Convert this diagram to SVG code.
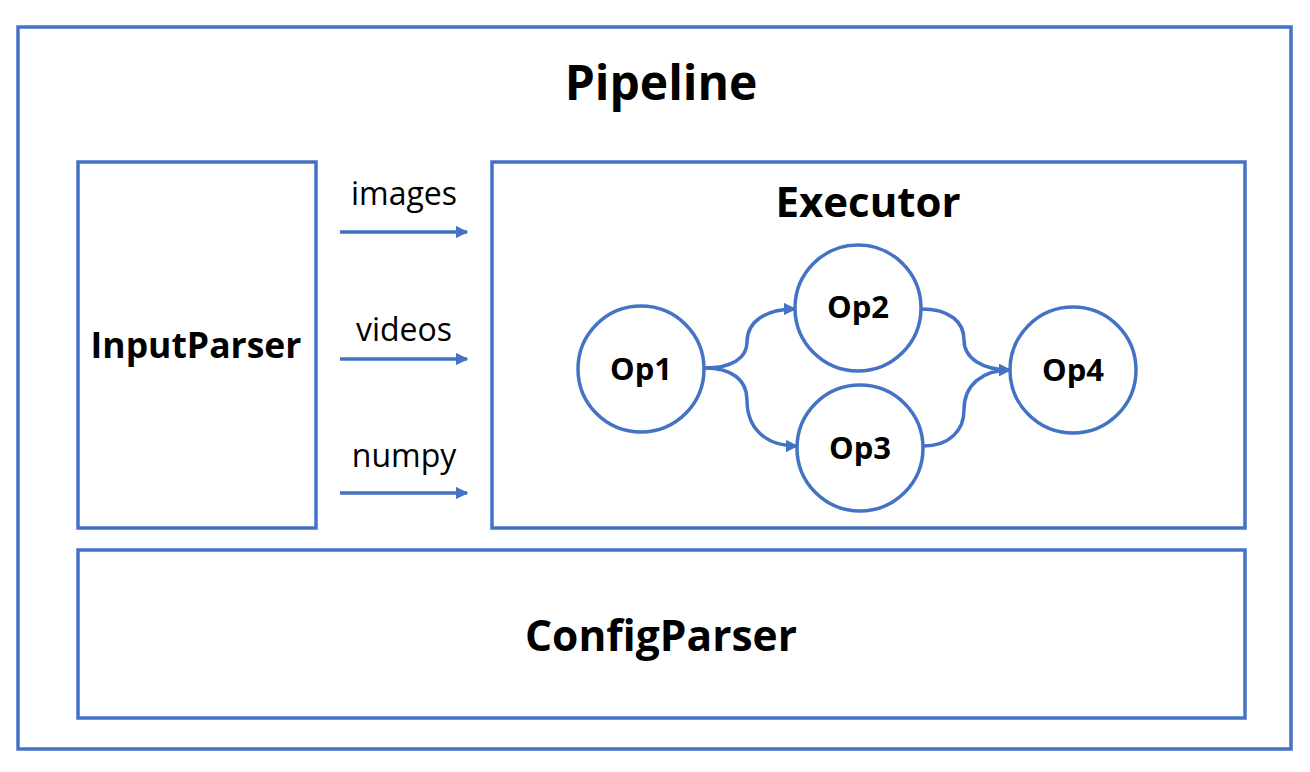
<svg xmlns="http://www.w3.org/2000/svg" width="1310" height="772" viewBox="0 0 1310 772">
<defs>
<style>
.box{fill:#fff;stroke:#4472C4;stroke-width:3.5}
.op{fill:#fff;stroke:#4472C4;stroke-width:3.5}
.edge{fill:none;stroke:#4472C4;stroke-width:3.5}
.t{font-family:"Open Sans","Noto Sans","DejaVu Sans",sans-serif;fill:#000;text-anchor:middle}
.b{font-weight:bold}
</style>
<marker id="ah" viewBox="0 0 10 10" refX="9" refY="5" markerWidth="3.6" markerHeight="3.6" orient="auto" markerUnits="strokeWidth">
<path d="M0,0 L10,5 L0,10 z" fill="#4472C4"/>
</marker>
</defs>
<rect width="1310" height="772" fill="#fff"/>
<g id="pipeline">
<rect class="box" x="18" y="27" width="1273" height="722"/>
<text class="t b" x="661" y="100" font-size="48">Pipeline</text>
</g>
<g id="inputparser">
<rect class="box" x="78" y="162" width="238" height="366"/>
<text class="t b" x="196" y="358" font-size="35.5">InputParser</text>
</g>
<g id="executor">
<rect class="box" x="492" y="162" width="753" height="366"/>
<text class="t b" x="868" y="217" font-size="42">Executor</text>
</g>
<g id="configparser">
<rect class="box" x="78" y="550" width="1167" height="168"/>
<text class="t b" x="661" y="651" font-size="42.5">ConfigParser</text>
</g>
<g id="op1">
<circle class="op" cx="641" cy="369" r="63"/>
<text class="t b" x="641" y="380" font-size="31">Op1</text>
</g>
<g id="op2">
<circle class="op" cx="858" cy="308" r="63"/>
<text class="t b" x="858" y="318" font-size="31">Op2</text>
</g>
<g id="op3">
<circle class="op" cx="860" cy="448" r="63"/>
<text class="t b" x="860" y="459" font-size="31">Op3</text>
</g>
<g id="op4">
<circle class="op" cx="1073" cy="370" r="63"/>
<text class="t b" x="1073" y="381" font-size="31">Op4</text>
</g>
<g id="labels">
<text class="t" x="404" y="205" font-size="32">images</text>
<text class="t" x="404" y="341" font-size="32">videos</text>
<text class="t" x="404" y="467" font-size="32">numpy</text>
</g>
<g id="connectors">
<line class="edge" x1="340" y1="232" x2="467" y2="232" marker-end="url(#ah)"/>
<line class="edge" x1="340" y1="359" x2="467" y2="359" marker-end="url(#ah)"/>
<line class="edge" x1="340" y1="493" x2="467" y2="493" marker-end="url(#ah)"/>
<path class="edge" d="M705,368 C732,368 747,358 747,342 C747,322 765,309 795,309" marker-end="url(#ah)"/>
<path class="edge" d="M705,368 C732,368 747,380 747,400 C747,428 765,446 797,446" marker-end="url(#ah)"/>
<path class="edge" d="M921,309 C950,309 964,322 964,340 C964,358 982,370 1010,370" marker-end="url(#ah)"/>
<path class="edge" d="M923,446 C950,446 964,430 964,410 C964,385 982,370 1010,370" marker-end="url(#ah)"/>
</g>
</svg>
